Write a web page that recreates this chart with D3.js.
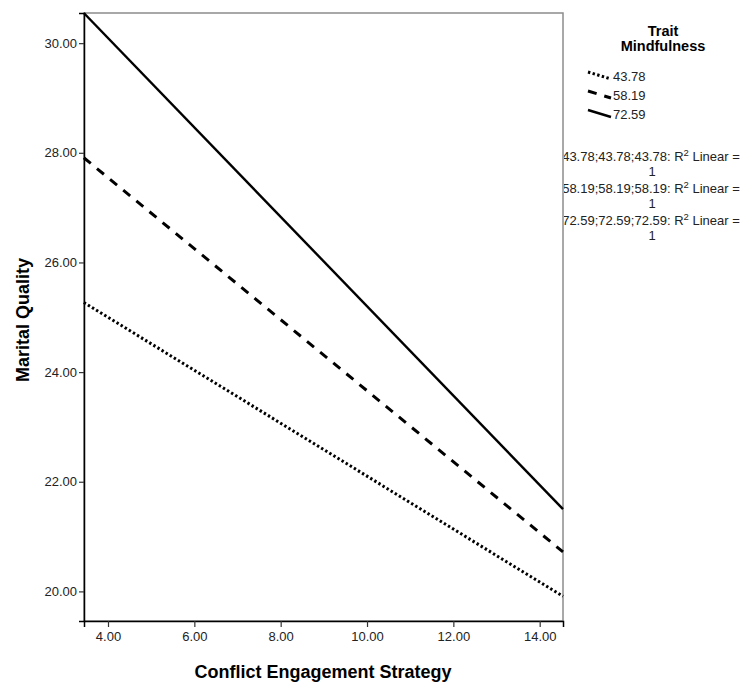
<!DOCTYPE html>
<html>
<head>
<meta charset="utf-8">
<script src="https://cdn.jsdelivr.net/npm/d3@7"></script>
<style>
  body { margin: 0; background: #fff; }
  svg text { font-family: "Liberation Sans", Arial, sans-serif; }
</style>
</head>
<body>
<div id="chart"></div>
<script>
// fitted lines: value at the two ends of the x range
const xEnds = [3.44, 14.54];
const groups = ["43.78", "58.19", "72.59"];
const lowY = [25.27, 19.91];
const midY = [27.91, 20.72];
const highY = [30.55, 21.50];
const yTicks = [20, 22, 24, 26, 28, 30];
const xTicks = [4, 6, 8, 10, 12, 14];

const width = 743,
    height = 683,
    margin = ({ top: 13, right: 180, bottom: 62, left: 84 });

const svg = d3.select("#chart")
    .append("svg")
    .attr("width", width)
    .attr("height", height);

let x = d3.scaleLinear()
    .domain([3.444, 14.54])
    .range([margin.left, width - margin.right]);

let y = d3.scaleLinear()
    .domain([19.46, 30.55])
    .range([height - margin.bottom, margin.top]);

// frame (top and right in grey)
svg.append("rect")
    .attr("x", margin.left)
    .attr("y", margin.top)
    .attr("width", x.range()[1] - margin.left)
    .attr("height", y.range()[0] - margin.top)
    .attr("fill", "none")
    .attr("stroke", "#8c8c8c")
    .attr("stroke-width", 1.5);

svg.append("g")
    .attr("transform", `translate(0,${y.range()[0]})`)
    .call(d3.axisBottom(x).tickValues(xTicks).tickFormat(d3.format(".2f")).tickSizeOuter(0).tickSize(6).tickPadding(5));

svg.append("g")
    .attr("transform", `translate(${margin.left},0)`)
    .call(d3.axisLeft(y).tickValues(yTicks).tickFormat(d3.format(".2f")).tickSizeOuter(0).tickSize(5).tickPadding(2));

svg.selectAll(".domain").attr("stroke", "#000").attr("stroke-width", 1.5);
svg.selectAll(".tick line").attr("stroke", "#333").attr("stroke-width", 1.2);
svg.selectAll(".tick text")
    .attr("fill", "#222")
    .style("font-size", "13px");

const series = [
    { name: groups[0], vals: lowY, dash: "2.4,2.4", w: 3 },
    { name: groups[1], vals: midY, dash: "9,8", w: 3 },
    { name: groups[2], vals: highY, dash: null, w: 2.4 }
];

const line = d3.line()
    .x((d, i) => x(xEnds[i]))
    .y(d => y(d));

svg.append("g")
    .selectAll("path")
    .data(series)
    .join("path")
    .attr("d", d => line(d.vals))
    .attr("fill", "none")
    .attr("stroke", "#000")
    .attr("stroke-width", d => d.w)
    .attr("stroke-dasharray", d => d.dash);

// axis titles
svg.append("text")
    .attr("x", 323)
    .attr("y", 678)
    .attr("text-anchor", "middle")
    .style("font-size", "18px")
    .style("font-weight", "bold")
    .text("Conflict Engagement Strategy");

svg.append("text")
    .attr("transform", "rotate(-90)")
    .attr("x", -320)
    .attr("y", 29)
    .attr("text-anchor", "middle")
    .style("font-size", "18px")
    .style("font-weight", "bold")
    .text("Marital Quality");

// legend
const lg = svg.append("g").attr("class", "legend");
lg.selectAll("text.title")
    .data(["Trait", "Mindfulness"])
    .join("text")
    .attr("class", "title")
    .attr("x", 663)
    .attr("y", (d, i) => 36 + i * 15)
    .attr("text-anchor", "middle")
    .style("font-size", "14.5px")
    .style("font-weight", "bold")
    .text(d => d);

const item = lg.selectAll("g.item")
    .data(series)
    .join("g")
    .attr("class", "item")
    .attr("transform", (d, i) => `translate(588,${70 + i * 19})`);

item.append("line")
    .attr("x1", 0).attr("y1", 2)
    .attr("x2", 23).attr("y2", 9)
    .attr("stroke", "#000")
    .attr("stroke-width", d => d.w)
    .attr("stroke-dasharray", d => d.dash);

item.append("text")
    .attr("x", 25)
    .attr("y", 11)
    .style("font-size", "13px")
    .attr("fill", "#222")
    .text(d => d.name);

// R² labels are cut off by the plot frame on the left
svg.append("clipPath")
    .attr("id", "rclip")
    .append("rect")
    .attr("x", x.range()[1] + 1)
    .attr("y", 0)
    .attr("width", 200)
    .attr("height", height);

const rLines = lg.append("g")
    .attr("clip-path", "url(#rclip)")
    .selectAll("g.rsq")
    .data(groups)
    .join("g")
    .attr("class", "rsq")
    .attr("transform", (d, i) => `translate(651,${161 + i * 32})`);

rLines.append("text")
    .attr("x", 0)
    .attr("y", 0)
    .attr("text-anchor", "middle")
    .style("font-size", "13px")
    .attr("fill", "#222")
    .call(t => {
        t.append("tspan").text(d => `${d};${d};${d}: R`);
        t.append("tspan").attr("dy", -5).style("font-size", "9.5px").text("2");
        t.append("tspan").attr("dy", 5).text(" Linear =");
    });

rLines.append("text")
    .attr("x", 1)
    .attr("y", 15)
    .attr("text-anchor", "middle")
    .style("font-size", "13px")
    .attr("fill", "#222")
    .text("1");
</script>
</body>
</html>
